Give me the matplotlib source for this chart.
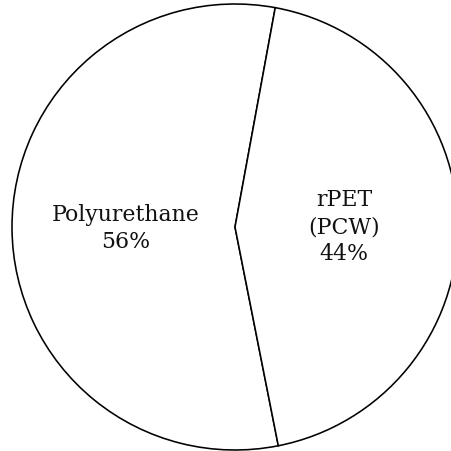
import matplotlib
matplotlib.use("Agg")
import matplotlib.pyplot as plt

categories = ["Polyurethane", "rPET\n(PCW)"]
values = [56, 44]

W, H = 451, 452
fig = plt.figure(figsize=(W / 100, H / 100), dpi=100)
cx, cy_top, r = 235, 228, 223
ax = fig.add_axes([(cx - r) / W, (H - cy_top - r) / H, 2 * r / W, 2 * r / H])
ax.axis("off")

labels_iter = iter(categories)

def fmt(p):
    return f"{next(labels_iter)}\n{p:.0f}%"

wedges, texts, autotexts = ax.pie(
    values,
    startangle=79.6,
    counterclock=True,
    colors=["white", "white"],
    wedgeprops=dict(edgecolor="black", linewidth=1.15, clip_on=False),
    autopct=fmt,
    pctdistance=0.49,
    textprops=dict(fontsize=15.8, family="DejaVu Serif", color="#111111", linespacing=1.28),
    radius=1,
    frame=False,
)
ax.set_xlim(-1, 1)
ax.set_ylim(-1, 1)
ax.set_aspect("auto")
fig.savefig("out.png", dpi=100, facecolor="white")
